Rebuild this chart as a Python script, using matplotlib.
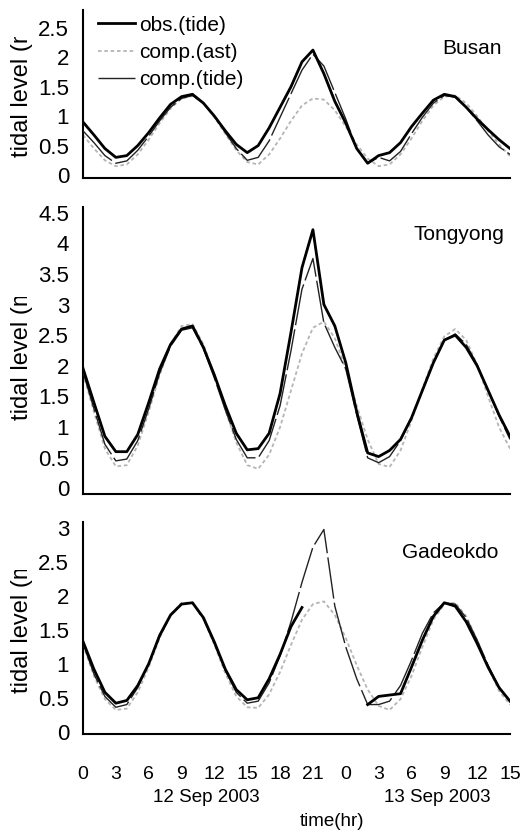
import numpy as np
import matplotlib
matplotlib.use("Agg")
import matplotlib.pyplot as plt
from matplotlib.transforms import Bbox, TransformedBbox

hours = list(range(40))
xtick_pos = list(range(0, 40, 3))
xtick_labels = ["0", "3", "6", "9", "12", "15", "18", "21", "0", "3", "6", "9", "12", "15"]
day_labels = ["12 Sep 2003", "13 Sep 2003"]
stations = ["Busan", "Tongyong", "Gadeokdo"]
series_names = ["obs.(tide)", "comp.(ast)", "comp.(tide)"]

nan = np.nan
busan_obs = [0.90, 0.68, 0.45, 0.30, 0.33, 0.50, 0.72, 0.97, 1.20, 1.33, 1.37, 1.22, 1.00, 0.75, 0.52, 0.38,
             0.50, 0.80, 1.15, 1.50, 1.92, 2.12, 1.72, 1.25, 0.88, 0.45, 0.20, 0.33, 0.38, 0.55,
             0.82, 1.05, 1.27, 1.37, 1.33, 1.15, 0.95, 0.77, 0.60, 0.45]
busan_ast = [0.68, 0.45, 0.25, 0.15, 0.18, 0.35, 0.60, 0.88, 1.13, 1.30, 1.34, 1.22, 0.98, 0.70, 0.42, 0.22,
             0.18, 0.35, 0.62, 0.92, 1.18, 1.30, 1.28, 1.10, 0.82, 0.52, 0.28, 0.15, 0.18, 0.35,
             0.62, 0.92, 1.18, 1.33, 1.35, 1.22, 1.00, 0.75, 0.52, 0.32]
busan_tide = [0.75, 0.55, 0.33, 0.20, 0.24, 0.42, 0.66, 0.92, 1.15, 1.30, 1.35, 1.22, 1.00, 0.72, 0.45, 0.25,
              0.30, 0.58, 0.98, 1.38, 1.78, 2.05, 1.85, 1.40, 0.95, 0.45, 0.20, 0.30, 0.24, 0.40,
              0.70, 0.98, 1.22, 1.35, 1.32, 1.15, 0.92, 0.68, 0.48, 0.35]

tong_obs = [1.96, 1.40, 0.85, 0.60, 0.60, 0.88, 1.40, 1.95, 2.35, 2.60, 2.65, 2.30, 1.85, 1.35, 0.90, 0.63,
            0.65, 0.90, 1.55, 2.55, 3.60, 4.22, 3.00, 2.65, 2.05, 1.25, 0.58, 0.52, 0.62, 0.80,
            1.15, 1.60, 2.05, 2.42, 2.50, 2.30, 2.00, 1.60, 1.20, 0.85]
tong_ast = [1.88, 1.25, 0.65, 0.36, 0.38, 0.70, 1.25, 1.85, 2.35, 2.65, 2.68, 2.35, 1.85, 1.28, 0.75, 0.38,
            0.32, 0.55, 1.00, 1.60, 2.20, 2.62, 2.72, 2.45, 1.95, 1.35, 0.80, 0.40, 0.35, 0.62,
            1.10, 1.62, 2.12, 2.48, 2.60, 2.42, 2.02, 1.50, 1.00, 0.65]
tong_tide = [1.90, 1.30, 0.72, 0.45, 0.48, 0.78, 1.30, 1.88, 2.32, 2.58, 2.62, 2.28, 1.80, 1.28, 0.80, 0.50,
             0.50, 0.78, 1.35, 2.25, 3.25, 3.75, 2.70, 2.30, 1.95, 1.20, 0.50, 0.42, 0.52, 0.78,
             1.15, 1.60, 2.05, 2.42, 2.52, 2.35, 2.02, 1.60, 1.18, 0.80]

gade_obs = [1.33, 0.92, 0.58, 0.42, 0.46, 0.68, 1.00, 1.42, 1.72, 1.88, 1.90, 1.68, 1.32, 0.92, 0.62, 0.47,
            0.50, 0.78, 1.14, 1.55, 1.83, nan, nan, nan, nan, nan, 0.40, 0.52, 0.54, 0.56,
            0.95, 1.35, 1.70, 1.90, 1.85, 1.62, 1.30, 0.95, 0.65, 0.45]
gade_ast = [1.28, 0.82, 0.48, 0.32, 0.34, 0.58, 0.95, 1.38, 1.72, 1.90, 1.90, 1.66, 1.28, 0.86, 0.52, 0.36,
            0.35, 0.55, 0.88, 1.28, 1.65, 1.88, 1.92, 1.72, 1.38, 0.98, 0.62, 0.38, 0.32, 0.48,
            0.82, 1.25, 1.65, 1.88, 1.90, 1.70, 1.35, 0.95, 0.60, 0.40]
gade_tide = [1.30, 0.85, 0.52, 0.36, 0.40, 0.65, 1.00, 1.40, 1.72, 1.88, 1.90, 1.66, 1.30, 0.90, 0.58, 0.42,
             0.45, 0.72, 1.12, 1.62, 2.20, 2.72, 2.98, 1.85, 1.25, 0.78, 0.40, 0.40, 0.45, 0.68,
             1.05, 1.45, 1.75, 1.90, 1.88, 1.68, 1.35, 0.98, 0.65, 0.45]

panels = [
    (busan_obs, busan_ast, busan_tide, [0, 0.5, 1, 1.5, 2, 2.5], (-0.05, 2.8)),
    (tong_obs, tong_ast, tong_tide, [0, 0.5, 1, 1.5, 2, 2.5, 3, 3.5, 4, 4.5], (-0.09, 4.59)),
    (gade_obs, gade_ast, gade_tide, [0, 0.5, 1, 1.5, 2, 2.5, 3], (-0.034, 3.09)),
]

W, H = 522, 832
fig = plt.figure(figsize=(W / 100, H / 100), dpi=100)
fig.patch.set_facecolor("white")

ext = [(10, 178), (207, 494), (522, 734)]
left_px, right_px = 83, 510
name_pos = [(442, 49), (413, 235), (402, 553)]
ylab_px = [(157, 37), (420, 297), (693, 570)]

sans = ["Liberation Sans", "DejaVu Sans"]

for i, (obs, ast, tide, yt, ylim) in enumerate(panels):
    top, bot = ext[i]
    ax = fig.add_axes([left_px / W, 1 - bot / H, (right_px - left_px) / W, (bot - top) / H])
    l1, = ax.plot(hours, obs, color="black", lw=2.0, label=series_names[0], zorder=4)
    l2, = ax.plot(hours, ast, color="#b5b5b5", lw=1.3, ls=(0, (2, 1.5)), label=series_names[1], zorder=2)
    l3, = ax.plot(hours, tide, color="#222222", lw=1.0, ls=(0, (30, 3)), label=series_names[2], zorder=3)
    ax.set_xlim(0, 39)
    ax.set_ylim(*ylim)
    ax.set_yticks(yt)
    ax.set_yticklabels([("%g" % v) for v in yt], fontfamily=sans, fontsize=16)
    for s in ["top", "right"]:
        ax.spines[s].set_visible(False)
    for s in ["left", "bottom"]:
        ax.spines[s].set_linewidth(1.5)
        ax.spines[s].set_color("black")
    ax.tick_params(axis="y", length=0, pad=10)
    ax.set_xticks(xtick_pos)
    if i == 2:
        ax.set_xticklabels(xtick_labels, fontfamily=sans, fontsize=14)
        ax.tick_params(axis="x", length=0, pad=23)
    else:
        ax.set_xticklabels([])
        ax.tick_params(axis="x", length=0)
    nx, ny = name_pos[i]
    fig.text(nx / W, 1 - ny / H, stations[i], fontsize=15, fontfamily=sans, ha="left", va="center")
    yb, ytop = ylab_px[i]
    t = fig.text(22 / W, 1 - yb / H, "tidal level (m)", rotation=90, ha="center", va="bottom",
                 fontsize=17, fontfamily=sans)
    t.set_clip_box(TransformedBbox(Bbox.from_extents(0, 1 - yb / H - 0.02, 60 / W, 1 - ytop / H), fig.transFigure))
    t.set_clip_on(True)
    if i == 0:
        ax.legend(handles=[l1, l2, l3], loc="upper left", bbox_to_anchor=(0.005, 1.04), frameon=False,
                  prop={"family": sans, "size": 15}, handlelength=1.8, handletextpad=0.2,
                  labelspacing=0.4, borderaxespad=0.2)

fig.text(206 / W, 1 - 798 / H, day_labels[0], fontsize=13.5, fontfamily=sans, ha="center", va="center")
fig.text(437 / W, 1 - 798 / H, day_labels[1], fontsize=13.5, fontfamily=sans, ha="center", va="center")
fig.text(332 / W, 1 - 822 / H, "time(hr)", fontsize=13.5, fontfamily=sans, ha="center", va="center")

fig.savefig("out.png", dpi=100, facecolor="white")
